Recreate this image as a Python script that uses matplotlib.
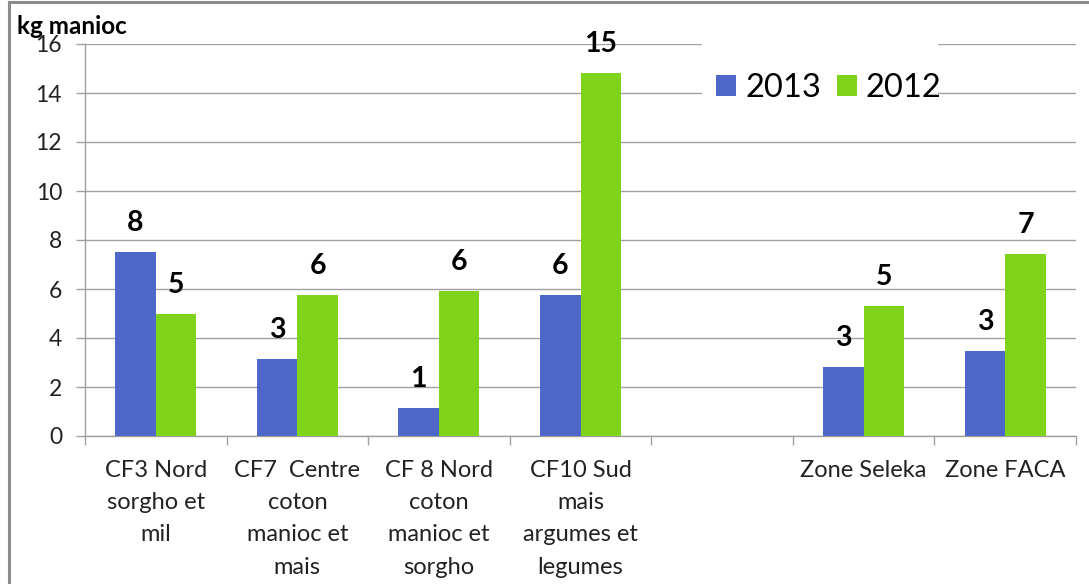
import numpy as np
import matplotlib
matplotlib.use('Agg')
import matplotlib.pyplot as plt
from matplotlib.lines import Line2D
from matplotlib.patches import Rectangle


CATEGORIES = [
	'CF3 Nord\nsorgho et\nmil',
	'CF7  Centre\ncoton\nmanioc et\nmais',
	'CF 8 Nord\ncoton\nmanioc et\nsorgho',
	'CF10 Sud\nmais\nargumes et\nlegumes',
	'',
	'Zone Seleka',
	'Zone FACA',
]
VALUES_2013 = [7.5, 3.14, 1.14, 5.76, np.nan, 2.82, 3.46]
VALUES_2012 = [5.0, 5.76, 5.92, 14.82, np.nan, 5.32, 7.42]
LABELS_2013 = ['8', '3', '1', '6', '', '3', '3']
LABELS_2012 = ['5', '6', '6', '15', '', '5', '7']
SERIES_NAMES = ['2013', '2012']
Y_TICKS = [0, 2, 4, 6, 8, 10, 12, 14, 16]

BLUE = '#4E67C8'
GREEN = '#80D31B'
GRID = '#A0A0A0'


def draw_bars(ax, centers, values, labels, offset, width, color, name):
	'Draw one series of bars with bold value labels above them.'
	bars = ax.bar(centers + offset, values, width, color=color, edgecolor='none', label=name, zorder=3)
	for bar, text in zip(bars, labels):
		if not text:
			continue
		ax.annotate(text, (bar.get_x() + bar.get_width() / 2, bar.get_height()),
			xytext=(0, 15), textcoords='offset points', ha='center', va='baseline',
			fontsize=20.5, fontweight='bold', color='black', zorder=5)
	return bars


def main():
	plt.rcParams['font.family'] = ['Lato', 'DejaVu Sans']
	fig = plt.figure(figsize=(10.89, 5.84), dpi=100)
	ax = fig.add_axes([85 / 1089, 1 - 436 / 584, (1076 - 85) / 1089, (436 - 44) / 584])

	centers = np.arange(len(CATEGORIES)) + 0.5
	width = 0.286
	draw_bars(ax, centers, VALUES_2013, LABELS_2013, -width / 2, width, BLUE, SERIES_NAMES[0])
	draw_bars(ax, centers, VALUES_2012, LABELS_2012, width / 2, width, GREEN, SERIES_NAMES[1])

	ax.set_xlim(0, len(CATEGORIES))
	ax.set_ylim(0, 16)
	ax.set_yticks(Y_TICKS)
	ax.tick_params(axis='y', labelsize=16.5, length=6.5, color=GRID, width=1, pad=10, labelcolor='#222222')
	ax.yaxis.grid(True, color=GRID, linewidth=1)
	ax.set_axisbelow(True)

	ax.set_xticks(centers)
	ax.set_xticklabels(CATEGORIES, fontsize=17, linespacing=1.67, color='#222222', va='top')
	ax.tick_params(axis='x', which='major', length=0, pad=17)
	ax.set_xticks(np.arange(len(CATEGORIES) + 1), minor=True)
	ax.tick_params(axis='x', which='minor', length=6.5, color=GRID, width=1)

	for side in ['top', 'right']:
		ax.spines[side].set_visible(False)
	for side in ['left', 'bottom']:
		ax.spines[side].set_color(GRID)
		ax.spines[side].set_linewidth(1)

	fig.text(17 / 1089, 1 - 34 / 584, 'kg manioc', fontsize=17.5, fontweight='bold', ha='left', va='baseline')

	# white box behind the legend hides the gridlines, as in the original
	ax.add_patch(Rectangle((702 / 1089, 1 - 125 / 584), (938 - 702) / 1089, 90 / 584,
		transform=fig.transFigure, facecolor='white', edgecolor='none', zorder=2, clip_on=False))
	legend = ax.legend(loc='center left', bbox_to_anchor=(716 / 1089, 1 - 88 / 584), bbox_transform=fig.transFigure,
		ncol=2, fontsize=23.5, frameon=False, handlelength=0.61, handleheight=0.61,
		handletextpad=0.28, columnspacing=0.49, borderpad=0, borderaxespad=0)
	legend.set_zorder(6)

	# thin grey frame of the original chart box (top and left edges only)
	fig.add_artist(Line2D([8.5 / 1089, 1.0], [1 - 1.5 / 584, 1 - 1.5 / 584], color='#8C8C8C', linewidth=2.2))
	fig.add_artist(Line2D([8.5 / 1089, 8.5 / 1089], [0, 1 - 1.5 / 584], color='#8C8C8C', linewidth=2.2))

	fig.savefig('out.png', dpi=100)


if __name__ == '__main__':
	main()
